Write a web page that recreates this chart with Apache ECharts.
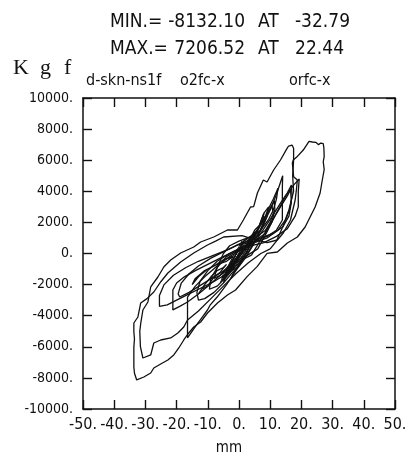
<!DOCTYPE html>
<html>
<head>
<meta charset="utf-8">
<script src="https://cdn.jsdelivr.net/npm/echarts@6/dist/echarts.min.js"></script>
<style>
  html, body { margin: 0; padding: 0; background: #fff; }
  #chart { width: 415px; height: 466px; }
</style>
</head>
<body>
<div id="chart"></div>
<script>
// header values
const minInfo = ['MIN.=', '-8132.10', 'AT', '-32.79'];
const maxInfo = ['MAX.=', '7206.52', 'AT', '22.44'];
const unitY = ['K', 'g', 'f'];
const unitX = 'mm';
const channels = ['d-skn-ns1f', 'o2fc-x', 'orfc-x'];

// axis ranges
const xRange = [-50, 50, 10];
const yRange = [-10000, 10000, 2000];

// loops [mm, kgf]
const loopL1 = [
  [9.0, 12], [12.3, 96], [15.5, 675], [18.7, 1061], [21.2, 1704], [22.8, 2347], [24.4, 2990],
  [26.0, 3890], [26.7, 4726], [27.3, 5400], [27.0, 5900], [27.3, 6227], [27.2, 6800], [27.0, 7063],
  [26.2, 7100], [25.5, 7000], [24.6, 7150], [23.5, 7170], [22.44, 7206], [20.6, 6655], [18.5, 6200],
  [17.4, 6012], [17.1, 5820], [17.5, 4941], [18.7, 4726], [18.4, 4100], [18.0, 3440], [16.5, 2154],
  [14.2, 1318], [12.3, 868], [9.0, 700], [5.0, 900], [1.0, 1150], [-4.95, 1061], [-7.5, 800],
  [-10.1, 547], [-14.5, 32], [-18.7, -547], [-22.8, -1254], [-25.0, -1800], [-27.3, -2476],
  [-29.5, -2900], [-31.5, -3183], [-32.4, -4083], [-33.7, -4469], [-33.7, -5048], [-33.5, -5500],
  [-33.7, -6012], [-33.7, -7298], [-33.5, -7700], [-32.79, -8132], [-30.5, -7942], [-28.3, -7684],
  [-27.3, -7362], [-25.1, -7105], [-22.8, -6848], [-20.9, -6527], [-19.3, -6076], [-17.7, -5562],
  [-16.1, -5112], [-14.5, -4726], [-12.3, -4405], [-10.1, -3826], [-6.9, -3183], [-3.7, -2668],
  [-1.1, -2347], [2.6, -1488], [5.8, -845], [9.0, 12]
];
const loopL2 = [
  [10.0, 300], [12.0, 800], [14.0, 1700], [16.0, 2800], [17.5, 4000], [17.2, 5000], [17.5, 6000],
  [17.5, 6763], [17.0, 6977], [15.9, 6913], [15.4, 6763], [13.3, 6013], [11.1, 5370], [9.0, 4600],
  [7.8, 4726], [5.9, 3890], [4.7, 3013], [3.7, 2990], [1.4, 2154], [-0.5, 1511], [-3.7, 1511],
  [-8.1, 1061], [-12.3, 740], [-14.5, 418], [-18.7, 32], [-21.9, -418], [-24.1, -868], [-26.0, -1511],
  [-28.3, -2154], [-29.2, -3118], [-30.8, -3633], [-31.5, -4500], [-31.8, -5000], [-31.6, -5988],
  [-30.8, -6720], [-28.3, -6526], [-27.3, -5755], [-25.1, -5562], [-21.9, -5433], [-19.6, -5112],
  [-17.7, -4726], [-16.5, -4276], [-13.0, -3700], [-9.0, -2900], [-5.0, -2100], [-1.0, -1300],
  [3.0, -600], [7.0, 0], [10.0, 300]
];
const loopM1 = [
  [3, 100], [5.5, 1000], [8, 2000], [10.5, 3000], [12.5, 4100], [14, 5000], [13.9, 4300], [13.9, 3200],
  [13.9, 2154], [12, 1500], [9, 1100], [5.5, 850], [2, 500], [-2, 100], [-6, -300], [-10, -700],
  [-14, -1100], [-17.5, -1500], [-20, -1900], [-21.2, -2350], [-21.2, -3000], [-21.2, -3630],
  [-19, -3400], [-16.5, -3118], [-13, -2600], [-10, -2100], [-6, -1400], [-2, -700], [1, -250], [3, 100]
];
const loopM2 = [
  [2, -300], [5, 700], [8, 1600], [11, 2500], [13.5, 3300], [15.5, 3900], [16.8, 4400], [17, 3700],
  [16.3, 2900], [15, 2200], [12.5, 1500], [9, 1000], [5, 700], [1, 300], [-3, -200], [-7, -800],
  [-11, -1500], [-14, -2100], [-16.5, -2800], [-16.5, -3800], [-16.5, -4600], [-16.5, -5430],
  [-14, -4700], [-12, -4150], [-10.1, -3633], [-9.2, -3300], [-7, -2800], [-4, -2000], [-1, -1100],
  [2, -300]
];
const loopM3 = [
  [1, -500], [3, 300], [5.5, 1300], [8, 2200], [10, 2900], [11.3, 3400], [11.5, 2800], [10.5, 2000],
  [8.5, 1300], [5, 800], [1, 400], [-3, 0], [-7, -500], [-10, -1100], [-12.5, -1800], [-13.5, -2500],
  [-13, -3000], [-11, -2900], [-8, -2500], [-5, -1900], [-2, -1200], [1, -500]
];
const loopM4 = [
  [4, -100], [7, 900], [10, 1900], [13, 2900], [15.5, 3700], [16.5, 4100], [16.8, 3300], [16, 2400],
  [14, 1700], [11, 1300], [7, 1000], [3, 800], [-1, 500], [-5, 100], [-9, -300], [-13, -800],
  [-16, -1300], [-18.5, -1900], [-19.5, -2600], [-19, -2800], [-16, -2500], [-12, -2000], [-8, -1500],
  [-4, -1000], [0, -500], [4, -100]
];
const loopM5 = [
  [6, 300], [9, 1400], [12, 2600], [15, 3700], [17.5, 4400], [19.3, 4800], [19.0, 4000], [19.0, 3000],
  [18, 2400], [15.5, 1600], [12, 1100], [8, 700], [4, 500], [0, 250], [-4, -200], [-7, -900],
  [-9, -1600], [-9.5, -2300], [-7, -2100], [-4, -1500], [-1, -800], [2, -200], [6, 300]
];
const loopM6 = [
  [0, -800], [3, 300], [6, 1500], [8, 2600], [7.5, 2000], [5, 1300], [1, 700], [-3, 300], [-8, -100],
  [-13, -500], [-17, -900], [-21, -1400], [-24, -2000], [-25.5, -2700], [-25.5, -3400], [-23, -3300],
  [-20, -3000], [-16, -2600], [-12, -2200], [-8, -1800], [-4, -1300], [0, -800]
];
const loopM7 = [
  [1, 600], [4, 1000], [7, 1500], [9, 2700], [11, 3500], [12.5, 4200], [12, 3500], [11, 2800],
  [9.5, 2200], [7, 1500], [4, 1100], [0, 800], [-3, 500], [-5, 0], [-7, -900], [-8, -1600],
  [-6, -1400], [-3, -700], [1, 600]
];
// jagged partial cycles either side of the middle
const loopH1 = [
  [2, 400], [4, 1100], [6, 1500], [7.5, 2200], [9, 2500], [10.5, 3100], [11, 2600], [10, 2000],
  [8.5, 1500], [6.5, 1200], [4, 800], [2, 400]
];
const loopH2 = [
  [3, 700], [5, 1500], [6.5, 1800], [8, 2600], [9.5, 3000], [9, 2400], [8, 1900], [6.5, 1300],
  [5, 1000], [3, 700]
];
const loopH3 = [
  [-4, -700], [-6, -1200], [-8, -1500], [-10, -2100], [-12, -2300], [-13, -2600], [-11, -2000],
  [-9, -1500], [-7, -1100], [-5, -900], [-4, -700]
];
const loopH4 = [
  [-2, -200], [-5, -400], [-8, -800], [-11, -1100], [-14, -1600], [-15, -2000], [-13, -1500],
  [-10, -1000], [-7, -700], [-4, -500], [-2, -200]
];
// small cycles in the middle
const loopS1 = [
  [-0.5, -300], [1, 150], [2.5, 600], [3.5, 950], [3.2, 650], [2, 300], [0.5, -50], [-1.5, -550],
  [-3, -1000], [-4.5, -1550], [-4.2, -1250], [-3, -950], [-1.5, -600], [-0.5, -300]
];
const loopS2 = [
  [0, -200], [1.5, 250], [2.8, 700], [3, 900], [2.2, 500], [0.8, 100], [-1, -400], [-2.5, -900],
  [-4, -1400], [-5, -1900], [-4.5, -1600], [-3.2, -1250], [-2, -900], [-0.8, -550], [0, -200]
];
const loopS3 = [
  [-1, -450], [0, -100], [1.5, 350], [2.2, 550], [1.8, 300], [0.5, -50], [-0.8, -400], [-2, -800],
  [-3.2, -1150], [-2.8, -950], [-2, -800], [-1, -450]
];
const loopS4 = [
  [-0.2, -150], [1.8, 350], [3.3, 850], [4.2, 1150], [3.6, 750], [2, 350], [0.2, -100], [-1.8, -650],
  [-3.6, -1200], [-5.2, -1750], [-4.8, -1400], [-3.4, -1050], [-1.9, -650], [-0.2, -150]
];
const loopS5 = [
  [-1.5, -700], [-0.5, -350], [0.8, 100], [1.5, 350], [1.1, 150], [0, -200], [-1.2, -550],
  [-2.5, -950], [-2.2, -750], [-1.5, -700]
];
const loopS6 = [
  [0.5, 0], [2, 450], [3.8, 1000], [4.8, 1300], [4.4, 950], [3, 600], [1.2, 150], [-0.8, -350],
  [-2.8, -900], [-4.6, -1450], [-6, -1900], [-5.4, -1600], [-4, -1250], [-2.2, -800], [-0.6, -350],
  [0.5, 0]
];
const loopS7 = [
  [-0.8, -500], [0.6, -50], [2.2, 450], [3, 700], [2.6, 450], [1.4, 150], [-0.2, -300], [-1.8, -700],
  [-3.4, -1200], [-3, -1050], [-2, -850], [-0.8, -500]
];
const loopS8 = [
  [0, -250], [1, 50], [2, 350], [2.6, 550], [2.2, 400], [1.2, 100], [0, -250], [-1.4, -650],
  [-2.6, -1050], [-3.8, -1350], [-3.5, -1100], [-2.4, -800], [-1.2, -550], [0, -250]
];
const loopS9 = [
  [1, 200], [2.5, 600], [4, 1000], [5, 1400], [4.6, 1000], [3.6, 700], [2, 350], [0, -100], [-2, -600],
  [-3.8, -1100], [-5.5, -1600], [-5, -1300], [-3.5, -900], [-1.5, -400], [1, 200]
];
const loopS10 = [
  [-2, -900], [-1, -550], [0.3, -150], [1.2, 200], [0.9, 50], [-0.3, -300], [-1.5, -700], [-2.8, -1100],
  [-2.5, -1000], [-2, -900]
];
const loopS11 = [
  [-1, -300], [0.5, 200], [1.8, 650], [2.4, 800], [1.6, 400], [0, -50], [-1.6, -550], [-3.5, -1150],
  [-4, -1400], [-3, -1000], [-1, -300]
];
const loopS12 = [
  [-2, -500], [-0.8, 0], [0.6, 500], [1.4, 700], [0.8, 350], [-0.6, -200], [-2.2, -750], [-3.6, -1300],
  [-3.2, -1050], [-2, -500]
];
const loopS13 = [
  [0, -600], [1.4, -100], [2.8, 400], [3.6, 650], [3, 300], [1.8, -100], [0.2, -650], [-1.4, -1200],
  [-2.6, -1600], [-2, -1300], [-0.8, -950], [0, -600]
];
const loopS14 = [
  [-3, -600], [-1.5, -50], [0, 450], [1, 800], [0.4, 400], [-1, -100], [-2.6, -700], [-4, -1200],
  [-4.6, -1350], [-3.8, -1000], [-3, -600]
];
const loopS15 = [
  [1.5, 100], [3, 500], [4, 850], [3.4, 550], [2, 150], [0.5, -300], [-1, -750], [-2.2, -1050],
  [-1.2, -700], [0.2, -250], [1.5, 100]
];
const loopS16 = [
  [-0.5, 100], [0.8, 500], [1.8, 900], [1.2, 650], [0, 250], [-1.5, -250], [-3, -750], [-4.2, -1100],
  [-3.4, -850], [-2, -400], [-0.5, 100]
];

const coreLoops = [loopS10, loopS5, loopS3, loopS8, loopS7, loopS1, loopS2, loopS4, loopS6, loopS9,
  loopS11, loopS12, loopS13, loopS14, loopS15, loopS16];
const mainLoops = [loopH1, loopH2, loopH3, loopH4, loopM7, loopM3, loopM6, loopM4, loopM1, loopM5,
  loopM2, loopL2, loopL1];

const ink = '#111';
const plotFont = '"Liberation Sans Narrow", "DejaVu Sans Condensed", sans-serif';
const serifFont = '"Liberation Serif", "DejaVu Serif", serif';

const chart = echarts.init(document.getElementById('chart'));

// frame axis, ticks pointing into the plot on all four sides
function makeAxis(position, range, labelSize, margin) {
  const labelled = labelSize > 0;
  return {
    type: 'value',
    position: position,
    min: range[0],
    max: range[1],
    interval: range[2],
    axisLine: { show: true, onZero: false, lineStyle: { color: ink, width: 1.5 } },
    axisTick: { show: true, inside: true, length: 9, lineStyle: { color: ink, width: 1.4 } },
    splitLine: { show: false },
    axisLabel: {
      show: labelled,
      formatter: (v) => v + '.',
      color: ink,
      fontSize: labelled ? labelSize : 12,
      fontFamily: plotFont,
      margin: margin || 8
    }
  };
}

function txt(text, x, y, align, size, family) {
  return {
    type: 'text',
    x: x,
    y: y,
    style: {
      text: text,
      fill: ink,
      font: size + 'px ' + (family || plotFont),
      align: align,
      textAlign: align,
      verticalAlign: 'middle',
      textVerticalAlign: 'middle'
    }
  };
}

const lineSeries = (d, w) => ({
  type: 'line',
  data: d,
  showSymbol: false,
  silent: true,
  lineStyle: { color: ink, width: w }
});

const option = {
  backgroundColor: '#fff',
  animation: false,
  grid: { left: 83, top: 98, width: 312, height: 311 },
  xAxis: [
    makeAxis('bottom', xRange, 16, 8),
    makeAxis('top', xRange, 0)
  ],
  yAxis: [
    makeAxis('left', yRange, 14, 10),
    makeAxis('right', yRange, 0)
  ],
  series: coreLoops.map((d) => lineSeries(d, 1)).concat(mainLoops.map((d) => lineSeries(d, 1.3))),
  graphic: [
    txt(minInfo[0], 110, 22, 'left', 19),
    txt(minInfo[1], 245, 22, 'right', 19),
    txt(minInfo[2], 258, 22, 'left', 19),
    txt(minInfo[3], 350, 22, 'right', 19),
    txt(maxInfo[0], 110, 49, 'left', 19),
    txt(maxInfo[1], 245, 49, 'right', 19),
    txt(maxInfo[2], 258, 49, 'left', 19),
    txt(maxInfo[3], 344, 49, 'right', 19),
    txt(unitY[0], 13, 68, 'left', 22, serifFont),
    txt(unitY[1], 40, 68, 'left', 22, serifFont),
    txt(unitY[2], 64, 68, 'left', 22, serifFont),
    txt(channels[0], 86, 81, 'left', 16),
    txt(channels[1], 180, 81, 'left', 16),
    txt(channels[2], 289, 81, 'left', 16),
    txt(unitX, 229, 448, 'center', 15)
  ]
};

chart.setOption(option);
</script>
</body>
</html>
